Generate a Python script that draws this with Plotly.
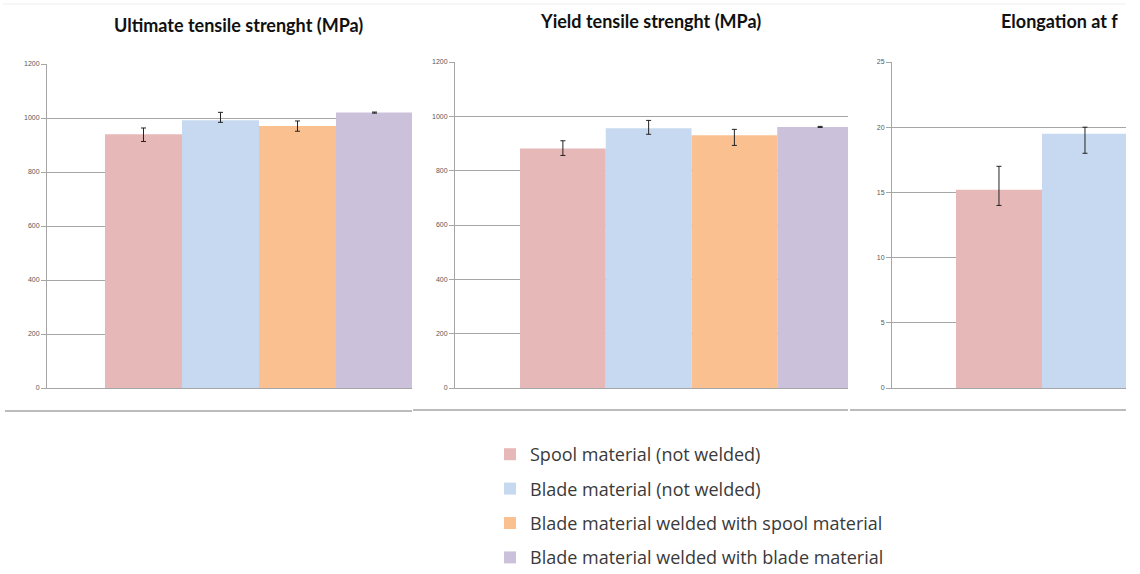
import plotly.graph_objects as go

# ---------------- data ----------------
series = [
    "Spool material (not welded)",
    "Blade material (not welded)",
    "Blade material welded with spool material",
    "Blade material welded with blade material",
]
colors = ["#E6B9B8", "#C6D9F1", "#FAC090", "#CCC1DA"]

uts_values = [940, 992, 970, 1020]
uts_err_plus = [23, 29, 19, 2]
uts_err_minus = [27, 8, 19, 2]

yts_values = [882, 956, 930, 961]
yts_err_plus = [28, 29, 22, 2]
yts_err_minus = [26, 22, 37, 2]

# third panel is cropped in the reference: only the first two bars are visible
elong_values = [15.2, 19.5]
elong_err_plus = [1.8, 0.5]
elong_err_minus = [1.2, 1.5]

titles = ["Ultimate tensile strenght (MPa)", "Yield tensile strenght (MPa)", "Elongation at f"]

W, H = 1140, 574


def px(x):
    return x / W


def py(y):
    return 1 - y / H


fig = go.Figure()

panels = [
    (uts_values, uts_err_plus, uts_err_minus, "x", "y"),
    (yts_values, yts_err_plus, yts_err_minus, "x2", "y2"),
    (elong_values, elong_err_plus, elong_err_minus, "x3", "y3"),
]

for p, (vals, ep, em, xa, ya) in enumerate(panels):
    for i, v in enumerate(vals):
        fig.add_trace(go.Bar(
            x=[series[i]], y=[v],
            width=1,
            marker=dict(color=colors[i], line=dict(width=0)),
            error_y=dict(type="data", symmetric=False, array=[ep[i]], arrayminus=[em[i]],
                         color="#222222", thickness=1, width=2.5),
            name=series[i],
            legendgroup=series[i],
            showlegend=(p == 0),
            xaxis=xa, yaxis=ya,
        ))

grid_col = "#A6A6A6"
tickfont = dict(family="Liberation Sans", size=7, color="#595959")


def xaxis(dom, rng):
    return dict(domain=[px(dom[0]), px(dom[1])], type="category", categoryorder="array",
                categoryarray=series, range=rng, showticklabels=False, ticks="",
                showgrid=False, zeroline=False, showline=True, linecolor=grid_col, linewidth=1,
                fixedrange=True)


def yaxis(top, rng, dtick, anchor):
    return dict(domain=[py(388), py(top)], range=rng, dtick=dtick, showgrid=True,
                gridcolor=grid_col, gridwidth=1, zeroline=False, showline=True,
                linecolor=grid_col, linewidth=1, ticks="outside", ticklen=5,
                tickcolor=grid_col, tickfont=tickfont, anchor=anchor, fixedrange=True)


fig.update_layout(
    width=W, height=H,
    margin=dict(l=0, r=0, t=0, b=0, autoexpand=False),
    paper_bgcolor="white", plot_bgcolor="white",
    barmode="overlay",
    xaxis=dict(xaxis((47, 412), [-1.253, 3.487]), anchor="y"),
    yaxis=yaxis(64, [0, 1200], 200, "x"),
    xaxis2=dict(xaxis((455, 848), [-1.258, 3.325]), anchor="y2"),
    yaxis2=yaxis(62, [0, 1200], 200, "x2"),
    xaxis3=dict(xaxis((892, 1126), [-1.244, 1.477]), anchor="y3"),
    yaxis3=yaxis(62, [0, 25], 5, "x3"),
    legend=dict(x=px(490), y=py(436), xanchor="left", yanchor="top",
                font=dict(family="Open Sans", size=18, color="#3a3a3a"),
                tracegroupgap=8, traceorder="grouped", itemclick=False,
                itemdoubleclick=False, bgcolor="rgba(0,0,0,0)"),
    showlegend=True,
)

title_font = dict(family="Lato", size=18, color="#111111")
fig.add_annotation(text="<b>" + titles[0] + "</b>", x=px(238), y=py(25), xref="paper", yref="paper",
                   xanchor="center", yanchor="middle", showarrow=False, font=title_font)
fig.add_annotation(text="<b>" + titles[1] + "</b>", x=px(650), y=py(21), xref="paper", yref="paper",
                   xanchor="center", yanchor="middle", showarrow=False, font=title_font)
fig.add_annotation(text="<b>" + titles[2] + "</b>", x=px(999), y=py(21), xref="paper", yref="paper",
                   xanchor="left", yanchor="middle", showarrow=False, font=title_font)

# chart frame lines (bottom borders and faint top border)
for x0, x1, yy in [(5, 412, 411), (413, 848, 410), (850, 1126, 410)]:
    fig.add_shape(type="line", xref="paper", yref="paper", x0=px(x0), x1=px(x1), y0=py(yy), y1=py(yy),
                  line=dict(color="#A6A6A6", width=1.5))
fig.add_shape(type="line", xref="paper", yref="paper", x0=px(3), x1=px(1126), y0=py(4), y1=py(4),
              line=dict(color="#EEEEEE", width=1))

fig.write_html("out.html", config={"displayModeBar": False},
               post_script="document.body.style.margin='0';document.body.style.overflow='hidden';")
